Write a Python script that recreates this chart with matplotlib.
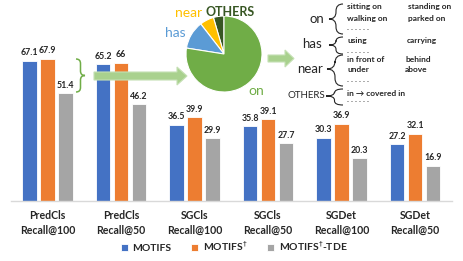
import matplotlib
matplotlib.use("Agg")
import matplotlib.pyplot as plt
import numpy as np
from matplotlib.path import Path
from matplotlib.patches import PathPatch, Polygon

plt.rcParams['font.family'] = ['Lato', 'DejaVu Sans']

categories = ["PredCls\nRecall@100", "PredCls\nRecall@50", "SGCls\nRecall@100",
              "SGCls\nRecall@50", "SGDet\nRecall@100", "SGDet\nRecall@50"]
motifs = [67.1, 65.2, 36.5, 35.8, 30.3, 27.2]
motifs_dag = [67.9, 66, 39.9, 39.1, 36.9, 32.1]
motifs_tde = [51.4, 46.2, 29.9, 27.7, 20.3, 16.9]
series_names = ["MOTIFS", r"MOTIFS$^{\dagger}$", r"MOTIFS$^{\dagger}$-TDE"]
colors = ["#4472c4", "#ed7d31", "#a5a5a5"]

pie_labels = ["OTHERS", "near", "has", "on"]
pie_values = [4.5, 6.0, 12.0, 77.5]
pie_colors = ["#375623", "#ffc000", "#5b9bd5", "#70ad47"]

W, H = 463, 261
fig = plt.figure(figsize=(W / 100, H / 100), dpi=100)

def px(x, y):
    return (x / W, 1 - y / H)

ax = fig.add_axes([10.75 / W, 60 / H, 441 / W, 201 / H])
ax.set_facecolor('none')
x = np.arange(len(categories))
bw = 0.2
off = 0.245
for i, (vals, name, c) in enumerate(zip([motifs, motifs_dag, motifs_tde], series_names, colors)):
    bars = ax.bar(x + (i - 1) * off, vals, bw, color=c, edgecolor='white', linewidth=0.6, label=name)
    ax.bar_label(bars, fmt='{:g}', padding=2.5, fontsize=6.3, fontweight='bold', color='#262626')
ax.set_xlim(-0.5, 5.5)
ax.set_ylim(0, 96)
ax.set_yticks([])
ax.set_xticks(x)
ax.set_xticklabels(categories, fontsize=7.6, fontweight='bold', color='#262626', linespacing=1.4)
ax.tick_params(axis='x', length=0, pad=6.5)
for s in ['top', 'right', 'left']:
    ax.spines[s].set_visible(False)
ax.spines['bottom'].set_color('#d9d9d9')
ax.spines['bottom'].set_linewidth(1.0)

leg = fig.legend(loc='center', bbox_to_anchor=(234 / W, 1 - 246 / H), ncol=3, frameon=False,
                 handlelength=0.7, handleheight=0.7, handletextpad=0.4,
                 columnspacing=1.9, prop={'weight': 'bold', 'size': 7.5})
for t in leg.get_texts():
    t.set_color('#262626')

# pie
cx, cy, r = 224, 54, 38
pax = fig.add_axes([(cx - r) / W, 1 - (cy + r) / H, 2 * r / W, 2 * r / H])
pax.pie(pie_values, colors=pie_colors, startangle=90, counterclock=True,
        wedgeprops=dict(edgecolor='white', linewidth=0.8))
pax.set_xlim(-1, 1)
pax.set_ylim(-1, 1)
pax.axis('off')

fig.text(*px(175, 33), "has", color="#5b9bd5", fontsize=10, ha='center', va='center')
fig.text(*px(189, 13), "near", color="#ffc000", fontsize=10, ha='center', va='center')
fig.text(*px(230, 12), "OTHERS", color="#375623", fontsize=9, fontweight='bold', ha='center', va='center')
fig.text(*px(256, 91), "on", color="#70ad47", fontsize=10, ha='center', va='center')

# arrows
def arrow(x0, x1, xt, yc, bh, hh, fc, ec):
    pts = [(x0, yc - bh), (x1, yc - bh), (x1, yc - hh), (xt, yc), (x1, yc + hh), (x1, yc + bh), (x0, yc + bh)]
    fig.patches.append(Polygon([px(a, b) for a, b in pts], closed=True, transform=fig.transFigure,
                               facecolor=fc, edgecolor=ec, linewidth=0.8, figure=fig))

arrow(94, 177, 187, 76, 4, 9, '#a9d18e', '#c5e0b4')
arrow(268, 285, 294, 58.5, 3.5, 8.5, '#a9d18e', '#c5e0b4')

# braces
def brace(x_tip, x_end, y0, y1, ym=None, color='#262626', lw=0.8):
    if ym is None:
        ym = (y0 + y1) / 2
    xm = (x_tip + x_end) / 2
    d = min(abs(x_end - x_tip) * 0.5, (y1 - y0) / 4)
    verts = [(x_end, y0), (xm, y0), (xm, y0 + d), (xm, ym - d), (xm, ym), (x_tip, ym),
             (xm, ym), (xm, ym + d), (xm, y1 - d), (xm, y1), (x_end, y1)]
    codes = [Path.MOVETO, Path.CURVE3, Path.CURVE3, Path.LINETO, Path.CURVE3, Path.CURVE3,
             Path.CURVE3, Path.CURVE3, Path.LINETO, Path.CURVE3, Path.CURVE3]
    p = Path([px(a, b) for a, b in verts], codes)
    fig.patches.append(PathPatch(p, transform=fig.transFigure, facecolor='none', edgecolor=color,
                                 linewidth=lw, figure=fig))

brace(85, 76, 59, 92, color='#70ad47', lw=1.1)
brace(329, 343, 4, 34, 19)
brace(329, 343, 37, 54, 45)
brace(327, 343, 55, 86, 69)
brace(326, 343, 89, 105, 96)

tk = dict(fontsize=6, fontweight='bold', color='#262626', va='center', ha='left')
rows = [(347, 6, "sitting on"), (408, 6, "standing on"),
        (347, 19, "walking on"), (408, 19, "parked on"),
        (347, 28, ". . . . . ."),
        (347, 41, "using"), (407, 41, "carrying"),
        (347, 50, ". . . . . ."),
        (347, 59, "in front of"), (405, 59, "behind"),
        (347, 70, "under"), (405, 70, "above"),
        (347, 80, ". . . . . ."),
        (347, 93, "in \u2192 covered in"),
        (347, 100, ". . . . . .")]
for xx, yy, s in rows:
    fig.text(*px(xx, yy), s, **tk)

lk = dict(color='#262626', va='center', ha='right')
fig.text(*px(324, 19), "on", fontsize=9.5, **lk)
fig.text(*px(322, 44), "has", fontsize=9.5, **lk)
fig.text(*px(323, 69), "near", fontsize=9.5, **lk)
fig.text(*px(325, 95), "OTHERS", fontsize=7, **lk)

fig.savefig("out.png", dpi=100)
